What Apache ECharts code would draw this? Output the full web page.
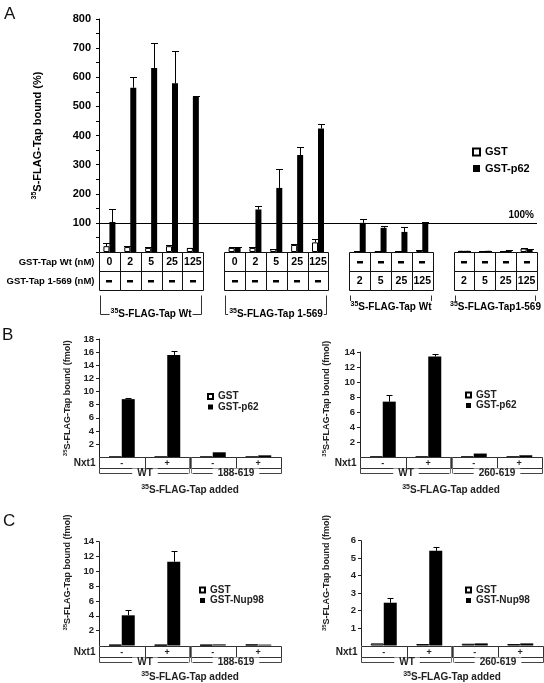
<!DOCTYPE html>
<html><head><meta charset="utf-8">
<script src="https://cdn.jsdelivr.net/npm/echarts@6/dist/echarts.min.js"></script>
<style>html,body{margin:0;padding:0;background:#fff}#c{width:544px;height:683px}</style>
</head><body><div id="c"></div>
<script>
const FONT = '"Liberation Sans", Arial, Helvetica, sans-serif';

// ---------------- Panel A data ----------------
const aSlots = ['w0','w2','w5','w25','w125','gap1','t0','t2','t5','t25','t125','gap2','u2','u5','u25','u125','gap3','v2','v5','v25','v125'];
const aTapWtRow  = ['0','2','5','25','125', null, '0','2','5','25','125', null, '-','-','-','-', null, '-','-','-','-'];
const aTap569Row = ['-','-','-','-','-', null, '-','-','-','-','-', null, '2','5','25','125', null, '2','5','25','125'];
const aRowLabels = ['GST-Tap Wt (nM)', 'GST-Tap 1-569 (nM)'];
const aGST     = [20, 17, 14, 20, 14, null, 14, 14, 10, 24, 33, null, 2, 2, 2, 6, null, 4, 3, 3, 12];
const aGSTerr  = [30, 22, 16, 25, 15, null, 18, 16, 12, 26, 43, null, 3, 3, 3, 8, null, 5, 4, 4, 13];
const aP62     = [103, 564, 632, 579, 533, null, 14, 146, 220, 333, 424, null, 100, 83, 69, 102, null, 4, 4, 5, 10];
const aP62err  = [148, 601, 718, 689, 535, null, 18, 157, 285, 361, 439, null, 115, 88, 86, 103, null, 5, 5, 6, 11];
const aGroupLabels = ['35S-FLAG-Tap Wt', '35S-FLAG-Tap 1-569', '35S-FLAG-Tap Wt', '35S-FLAG-Tap1-569'];
const aGroupSpans  = [[0, 4], [6, 10], [12, 15], [17, 20]];
const aGroupDrop   = [23, 23, 16, 16];
const aYMax = 800, aYStep = 100, aRefLine = 100;

// ---------------- Panels B / C data ----------------
const smallSlots = ['WT-', 'WT+', 'D-', 'D+'];
const nxt1Row = ['-', '+', '-', '+'];
const bLeftConstructs  = ['WT', '188-619'];
const bRightConstructs = ['WT', '260-619'];
const cLeftConstructs  = ['WT', '188-619'];
const cRightConstructs = ['WT', '260-619'];

const bLeftGST  = [0.1, 0.1, 0.1, 0.1];
const bLeftP62  = [8.85, 15.57, 0.76, 0.3];
const bLeftP62err = [9.0, 16.1, null, null];

const bRightGST = [0.1, 0.1, 0.1, 0.1];
const bRightP62 = [7.4, 13.4, 0.5, 0.27];
const bRightP62err = [8.3, 13.7, null, null];

const cLeftGST  = [0.1, 0.1, 0.1, 0.15];
const cLeftNup  = [4.07, 11.3, 0.15, 0.12];
const cLeftNupErr = [4.73, 12.7, null, null];

const cRightGST = [0.12, 0.08, 0.1, 0.08];
const cRightNup = [2.45, 5.42, 0.12, 0.12];
const cRightNupErr = [2.7, 5.65, null, null];

// ---------------- helpers ----------------
function supRich(size, weight, color) {
  return {
    s: {fontSize: Math.round(size * 0.68), fontWeight: weight, fontFamily: FONT, color: color, fill: color, verticalAlign: 'top', lineHeight: Math.round(size * 0.7)},
    m: {fontSize: size, fontWeight: weight, fontFamily: FONT, color: color, fill: color, lineHeight: Math.round(size * 1.2)}
  };
}
function supText(t) {
  return t.indexOf('35') === 0 ? '{s|35}{m|' + t.slice(2) + '}' : '{m|' + t + '}';
}
function errSeries(name, xi, vals, errs, offset, cap) {
  const data = [];
  vals.forEach((v, i) => { if (v != null && errs[i] != null) data.push([i, v, errs[i]]); });
  return {
    type: 'custom', name: name + '-err', xAxisIndex: xi, yAxisIndex: xi, clip: false, z: 5,
    encode: {x: 0, y: 2}, data: data, silent: true,
    renderItem: function (params, api) {
      const i = api.value(0), v = api.value(1), e = api.value(2);
      const p0 = api.coord([i, v]), p1 = api.coord([i, e]);
      const x = Math.round(p0[0] + offset) + 0.5;
      const y1 = Math.round(p1[1]) + 0.5;
      return {type: 'group', children: [
        {type: 'line', shape: {x1: x, y1: p0[1], x2: x, y2: y1}, style: {stroke: '#000', lineWidth: 1}},
        {type: 'line', shape: {x1: x - cap, y1: y1, x2: x + cap, y2: y1}, style: {stroke: '#000', lineWidth: 1}}
      ]};
    }
  };
}

// Panel A table + brackets
function aTableSeries() {
  const data = [];
  aTapWtRow.forEach((t, i) => { if (t != null) data.push([i, 0]); });
  const h = 19;
  function cell(t, cx, cy) {
    if (t === '-') return {type: 'rect', shape: {x: Math.round(cx) - 3, y: Math.round(cy) - 1, width: 6, height: 2.5}, style: {fill: '#000'}};
    return {type: 'text', style: {text: t, x: cx, y: cy + 0.5, align: 'center', verticalAlign: 'middle', font: 'bold 10.5px ' + FONT, fill: '#000'}};
  }
  return {
    type: 'custom', xAxisIndex: 0, yAxisIndex: 0, clip: false, silent: true, z: 3,
    encode: {x: 0, y: 1}, data: data,
    renderItem: function (params, api) {
      const i = api.value(0);
      const c = api.coord([i, 0]);
      const w = api.size([1, 0])[0];
      const x0 = Math.round(c[0] - w / 2) + 0.5;
      const x1 = Math.round(c[0] + w / 2) + 0.5;
      const y0 = Math.round(c[1]) + 0.5;
      const ch = [
        {type: 'rect', shape: {x: x0, y: y0, width: x1 - x0, height: h}, style: {fill: 'none', stroke: '#111', lineWidth: 1}},
        {type: 'rect', shape: {x: x0, y: y0 + h, width: x1 - x0, height: h}, style: {fill: 'none', stroke: '#111', lineWidth: 1}},
        cell(aTapWtRow[i], c[0], y0 + h / 2),
        cell(aTap569Row[i], c[0], y0 + 1.5 * h)
      ];
      if (i === 0) {
        aRowLabels.forEach((lab, r) => ch.push({type: 'text', style: {text: lab, x: x0 - 5, y: y0 + (r + 0.5) * h + 0.5, align: 'right', verticalAlign: 'middle', font: 'bold 9.5px ' + FONT, fill: '#000'}}));
      }
      return {type: 'group', children: ch};
    }
  };
}
function aBracketSeries() {
  const data = aGroupSpans.map(s => [s[0], 0]);
  return {
    type: 'custom', xAxisIndex: 0, yAxisIndex: 0, clip: false, silent: true, z: 3,
    encode: {x: 0, y: 1}, data: data,
    renderItem: function (params, api) {
      const g = params.dataIndex;
      const s = aGroupSpans[g];
      const w = api.size([1, 0])[0];
      const cs = api.coord([s[0], 0]), ce = api.coord([s[1], 0]);
      const xs = Math.round(cs[0] - w / 2) + 1.5, xe = Math.round(ce[0] + w / 2) - 1.5;
      const yTop = Math.round(cs[1]) + 43.5, yBot = yTop + aGroupDrop[g] - 4;
      const st = {stroke: '#333', lineWidth: 1};
      return {type: 'group', children: [
        {type: 'line', shape: {x1: xs, y1: yTop, x2: xs, y2: yBot}, style: st},
        {type: 'line', shape: {x1: xe, y1: yTop, x2: xe, y2: yBot}, style: st},
        {type: 'line', shape: {x1: xs, y1: yBot, x2: xe, y2: yBot}, style: st},
        {type: 'text', z2: 10, style: {text: supText(aGroupLabels[g]), rich: supRich(10, 'bold', '#000'), x: (xs + xe) / 2, y: yBot - 0.5, align: 'center', verticalAlign: 'middle', backgroundColor: '#fff', padding: [0, 1]}}
      ]};
    }
  };
}

// Panel B/C table + brackets
function smallTableSeries(xi, constructs) {
  const data = smallSlots.map((s, i) => [i, 0]);
  const h = 11;
  return {
    type: 'custom', xAxisIndex: xi, yAxisIndex: xi, clip: false, silent: true, z: 3,
    encode: {x: 0, y: 1}, data: data,
    renderItem: function (params, api) {
      const i = api.value(0);
      const c = api.coord([i, 0]);
      const w = api.size([1, 0])[0];
      const x0 = Math.round(c[0] - w / 2) + 0.5;
      const x1 = Math.round(c[0] + w / 2) + 0.5;
      const y0 = Math.round(c[1]) + 0.5;
      const yb = y0 + h + 5;
      const st = {stroke: '#444', lineWidth: 1};
      const ch = [
        {type: 'rect', shape: {x: x0, y: y0, width: x1 - x0, height: h}, style: {fill: 'none', stroke: '#333', lineWidth: 1}},
        {type: 'text', style: {text: nxt1Row[i], x: c[0], y: y0 + h / 2 + 0.5, align: 'center', verticalAlign: 'middle', font: 'bold 9px ' + FONT, fill: '#222'}}
      ];
      if (i === 0) {
        ch.push({type: 'text', style: {text: 'Nxt1', x: x0 - 4, y: y0 + h / 2 + 0.5, align: 'right', verticalAlign: 'middle', font: 'bold 10px ' + FONT, fill: '#222'}});
        ch.push({type: 'line', shape: {x1: x0, y1: y0 + h, x2: x0, y2: yb}, style: st});
      }
      if (i === 3) ch.push({type: 'line', shape: {x1: x1, y1: y0 + h, x2: x1, y2: yb}, style: st});
      if (i === 2) {
        ch.push({type: 'line', shape: {x1: x0 - 1, y1: y0, x2: x0 - 1, y2: yb}, style: {stroke: '#777', lineWidth: 1}});
        ch.push({type: 'line', shape: {x1: x0 + 1, y1: y0, x2: x0 + 1, y2: yb}, style: {stroke: '#777', lineWidth: 1}});
      }
      if (i === 0 || i === 2) {
        const cn = api.coord([i + 1, 0]);
        const xe = Math.round(cn[0] + w / 2) + 0.5;
        ch.push({type: 'line', shape: {x1: x0 + (i === 2 ? 2 : 0), y1: yb, x2: xe - (i === 0 ? 2 : 0), y2: yb}, style: st});
        ch.push({type: 'text', z2: 10, style: {text: constructs[i / 2], x: (x0 + xe) / 2, y: yb, align: 'center', verticalAlign: 'middle', font: 'bold 10px ' + FONT, fill: '#222', backgroundColor: '#fff', padding: [0, 5]}});
      }
      return {type: 'group', children: ch};
    }
  };
}

// ---------------- layout ----------------
const grids = [
  {left: 99, top: 19, width: 438, height: 233},
  {left: 99, top: 339, width: 182, height: 118.3},
  {left: 360, top: 352, width: 182, height: 105.3},
  {left: 99, top: 541.7, width: 182, height: 104.8},
  {left: 361, top: 540.7, width: 182, height: 104.8}
];

function xCat(gi, data, name) {
  const ax = {gridIndex: gi, type: 'category', data: data, boundaryGap: true,
    axisLine: {show: false}, axisTick: {show: false}, axisLabel: {show: false}, splitLine: {show: false}};
  if (name) {
    ax.name = supText(name); ax.nameLocation = 'middle'; ax.nameGap = (gi === 3 || gi === 4) ? 25.5 : 26.5;
    ax.nameTextStyle = {rich: supRich(10, 'bold', '#222')};
  }
  return ax;
}
function yVal(gi, max, interval, name, gap, shift, big) {
  const color = big ? '#000' : '#222';
  return {gridIndex: gi, type: 'value', min: 0, max: max, interval: interval,
    axisLine: {show: true, lineStyle: {color: color, width: 1}},
    axisTick: {show: true, length: 3, lineStyle: {color: color}},
    minorTick: {show: !!big, splitNumber: 2, length: 3, lineStyle: {color: color}},
    splitLine: {show: false},
    axisLabel: {showMinLabel: false, margin: big ? 8 : 5, color: color, fontFamily: FONT, fontWeight: 'bold', fontSize: big ? 11 : 9.5},
    name: supText(name), nameLocation: 'middle', nameRotate: 90, nameGap: gap,
    nameTextStyle: {rich: supRich(big ? 11 : 9, 'bold', color), padding: [0, 0, 0, shift]}
  };
}
function legendAt(names, left, top, big) {
  return {data: names, orient: 'vertical', left: left, top: top, icon: 'rect',
    itemWidth: big ? 7 : 5, itemHeight: big ? 7 : 5, itemGap: big ? 4.5 : 0.5,
    selectedMode: false,
    textStyle: {fontFamily: FONT, fontWeight: 'bold', fontSize: big ? 11 : 10, lineHeight: big ? 12 : 8, color: big ? '#000' : '#222'}};
}
function barPair(xi, gst, black, blackName, bw) {
  return [
    {type: 'bar', name: 'GST', xAxisIndex: xi, yAxisIndex: xi, data: gst, barWidth: bw, barGap: '0%',
      itemStyle: {color: '#fff', borderColor: '#000', borderWidth: 1}},
    {type: 'bar', name: blackName, xAxisIndex: xi, yAxisIndex: xi, data: black, barWidth: bw, barGap: '0%',
      itemStyle: {color: '#000'}}
  ];
}

const series = [];
const aBars = barPair(0, aGST, aP62, 'GST-p62', 6);
aBars[1].markLine = {silent: true, symbol: 'none', animation: false,
  data: [{yAxis: aRefLine}], lineStyle: {color: '#000', type: 'solid', width: 1},
  label: {show: true, position: 'insideEndTop', formatter: '100%', fontFamily: FONT, fontWeight: 'bold', fontSize: 10, color: '#000', distance: 3}};
series.push(...aBars);
series.push(errSeries('GST', 0, aGST, aGSTerr, -3, 3.5));
series.push(errSeries('GST-p62', 0, aP62, aP62err, 3, 3.5));
series.push(aTableSeries());
series.push(aBracketSeries());

const small = [
  [1, bLeftGST, bLeftP62, bLeftP62err, 'GST-p62', bLeftConstructs],
  [2, bRightGST, bRightP62, bRightP62err, 'GST-p62', bRightConstructs],
  [3, cLeftGST, cLeftNup, cLeftNupErr, 'GST-Nup98', cLeftConstructs],
  [4, cRightGST, cRightNup, cRightNupErr, 'GST-Nup98', cRightConstructs]
];
small.forEach(p => {
  series.push(...barPair(p[0], p[1], p[2], p[4], 13));
  series.push(errSeries(p[4], p[0], p[2], p[3], 6.5, 3));
  series.push(smallTableSeries(p[0], p[5]));
});

const option = {
  animation: false,
  backgroundColor: '#fff',
  textStyle: {fontFamily: FONT},
  grid: grids,
  xAxis: [
    xCat(0, aSlots),
    xCat(1, smallSlots, '35S-FLAG-Tap added'),
    xCat(2, smallSlots, '35S-FLAG-Tap added'),
    xCat(3, smallSlots, '35S-FLAG-Tap added'),
    xCat(4, smallSlots, '35S-FLAG-Tap added')
  ],
  yAxis: [
    yVal(0, aYMax, aYStep, '35S-FLAG-Tap bound (%)', 55, 0, true),
    yVal(1, 18, 2, '35S-FLAG-Tap bound (fmol)', 26, 0, false),
    yVal(2, 14, 2, '35S-FLAG-Tap bound (fmol)', 28, 12, false),
    yVal(3, 14, 2, '35S-FLAG-Tap bound (fmol)', 26, 42, false),
    yVal(4, 6, 1, '35S-FLAG-Tap bound (fmol)', 29, 40, false)
  ],
  legend: [
    legendAt(['GST', 'GST-p62'], 467, 141, true),
    legendAt(['GST', 'GST-p62'], 202, 386.5, false),
    legendAt(['GST', 'GST-p62'], 460, 385, false),
    legendAt(['GST', 'GST-Nup98'], 194, 580, false),
    legendAt(['GST', 'GST-Nup98'], 460, 580, false)
  ],
  graphic: [
    {type: 'text', left: 4, top: 6, style: {text: 'A', font: '17px ' + FONT, fill: '#111'}},
    {type: 'text', left: 2, top: 327, style: {text: 'B', font: '17px ' + FONT, fill: '#111'}},
    {type: 'text', left: 3, top: 513, style: {text: 'C', font: '17px ' + FONT, fill: '#111'}}
  ],
  series: series
};
const chart = echarts.init(document.getElementById('c'), null, {renderer: 'canvas'});
chart.setOption(option);
</script></body></html>
